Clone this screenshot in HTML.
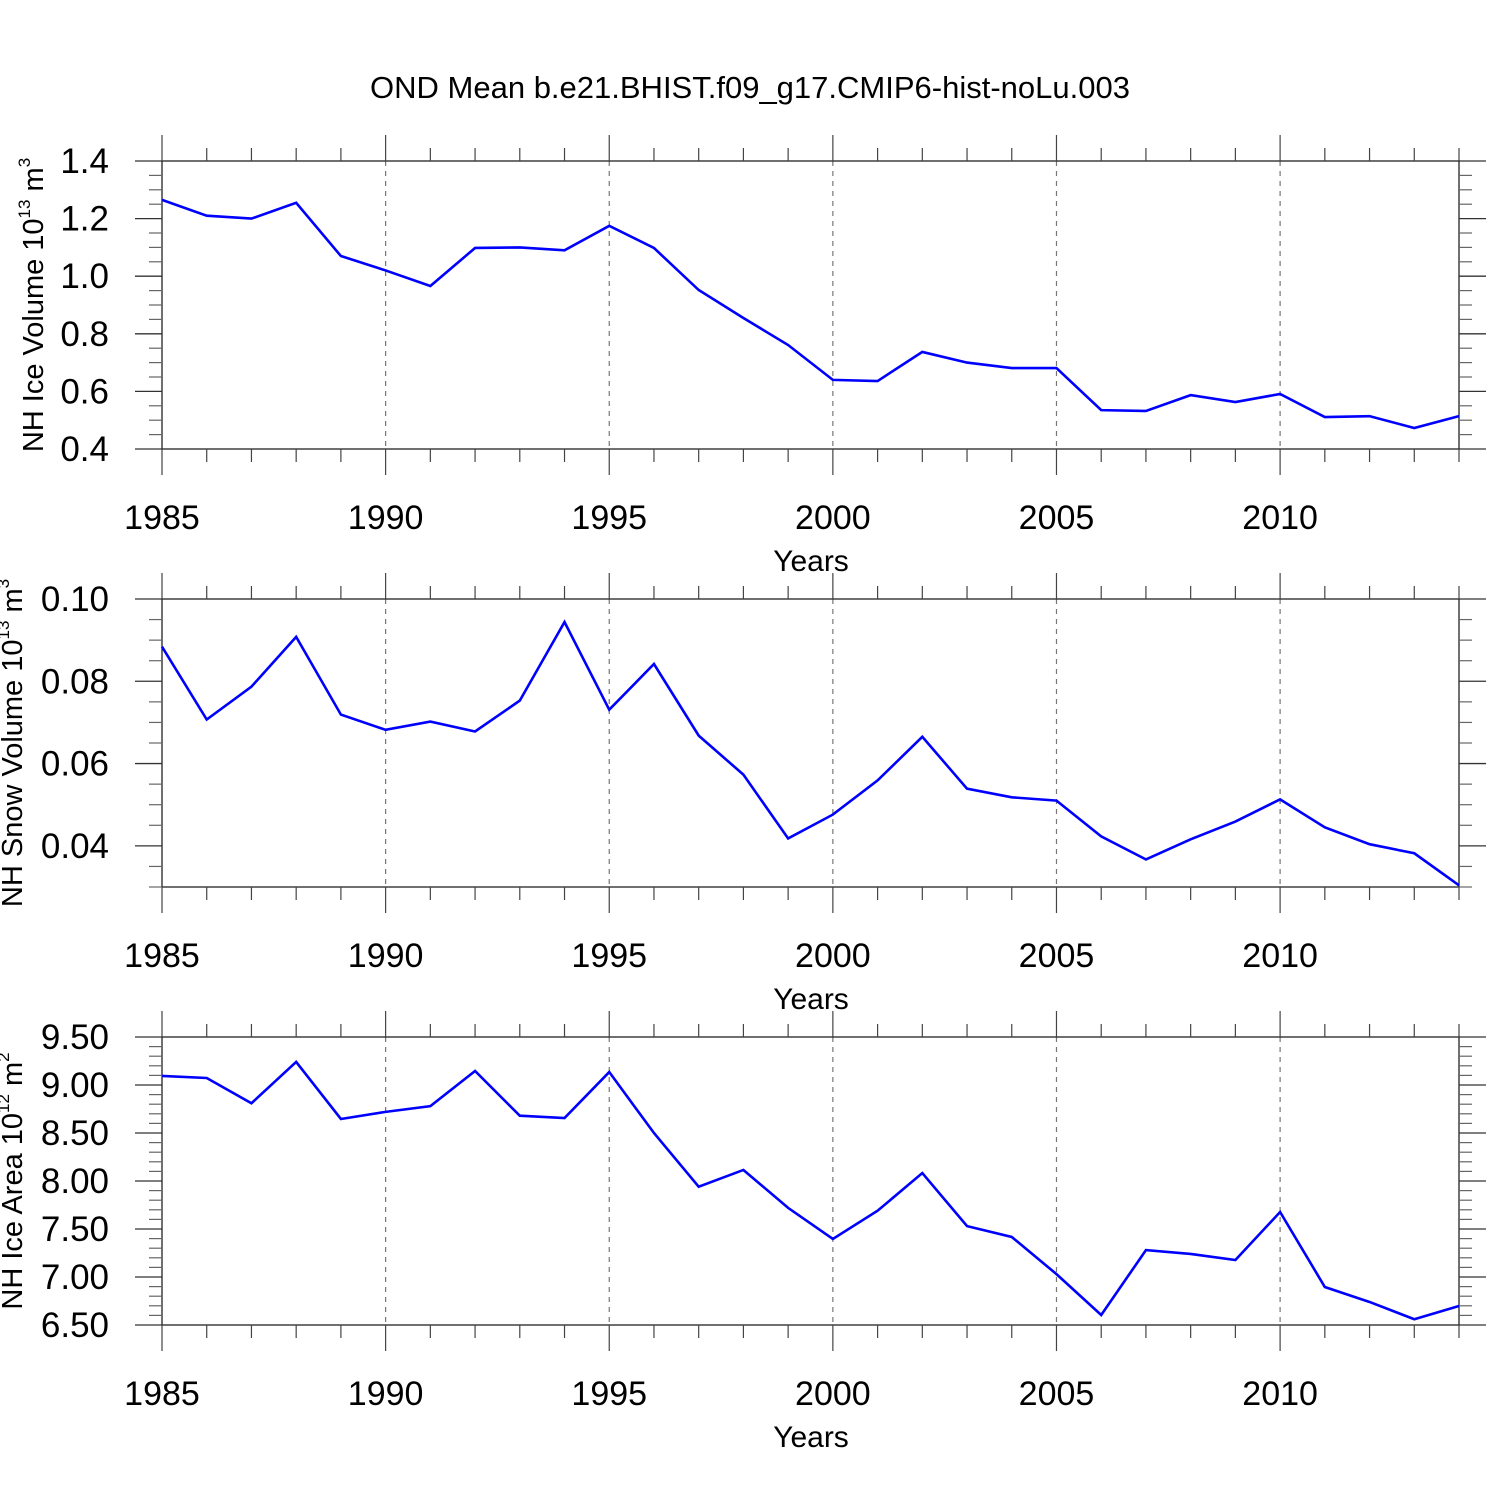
<!DOCTYPE html>
<html><head><meta charset="utf-8"><style>html,body{margin:0;padding:0;background:#fff}svg{display:block}text{font-family:"Liberation Sans",sans-serif}</style></head>
<body>
<svg id="chart" width="1500" height="1500" xmlns="http://www.w3.org/2000/svg">
<text x="750" y="98" font-size="31" text-anchor="middle">OND Mean b.e21.BHIST.f09_g17.CMIP6-hist-noLu.003</text>
</svg>
<script>
const years = [1985,1986,1987,1988,1989,1990,1991,1992,1993,1994,1995,1996,1997,1998,1999,2000,2001,2002,2003,2004,2005,2006,2007,2008,2009,2010,2011,2012,2013,2014];
const iceVolume = [1.265,1.21,1.20,1.255,1.07,1.02,0.966,1.098,1.10,1.09,1.175,1.098,0.952,0.855,0.761,0.64,0.636,0.737,0.70,0.681,0.681,0.535,0.532,0.587,0.563,0.591,0.511,0.514,0.473,0.514];
const snowVolume = [0.0884,0.0707,0.0787,0.0908,0.0719,0.0682,0.0702,0.0678,0.0753,0.0944,0.0731,0.0842,0.0668,0.0573,0.0418,0.0476,0.0559,0.0665,0.0539,0.0518,0.0510,0.0423,0.0367,0.0416,0.0459,0.0513,0.0445,0.0404,0.0382,0.0304];
const iceArea = [9.094,9.073,8.81,9.24,8.646,8.72,8.78,9.146,8.68,8.656,9.135,8.50,7.94,8.115,7.72,7.396,7.69,8.083,7.53,7.417,7.03,6.604,7.28,7.24,7.177,7.677,6.896,6.74,6.56,6.698];
const xTickLabels = ["1985","1990","1995","2000","2005","2010"];
const iceVolTicks = ["0.4","0.6","0.8","1.0","1.2","1.4"];
const snowTicks = ["0.04","0.06","0.08","0.10"];
const areaTicks = ["6.50","7.00","7.50","8.00","8.50","9.00","9.50"];

const NS="http://www.w3.org/2000/svg";
const svg=document.getElementById('chart');
function mk(tag,attrs,parent){const e=document.createElementNS(NS,tag);for(const k in attrs)e.setAttribute(k,attrs[k]);(parent||svg).appendChild(e);return e;}
const X0=162,X1=1459;
const xs=y=>X0+(y-1985)/(2014-1985)*(X1-X0);

function panel(name,top,bot,ymin,ymax,major,minor,labels,series,titleParts){
  const g=mk('g',{});
  
  
  const ys=v=>bot-(v-ymin)/(ymax-ymin)*(bot-top);
  for(let yr=1990;yr<=2010;yr+=5){
    const l=mk('line',{x1:xs(yr),x2:xs(yr),y1:top,y2:bot,stroke:'#777','stroke-width':1.2,'stroke-dasharray':'5,5'},g);
    
    
  }
  const fr=mk('rect',{x:X0,y:top,width:X1-X0,height:bot-top,fill:'none',stroke:'#222','stroke-width':1.3},g);
  
  
  for(let yr=1985;yr<=2014;yr++){
    const maj=(yr%5===0);const L=maj?26:13;
    mk('line',{x1:xs(yr),x2:xs(yr),y1:top,y2:top-L,stroke:'#444','stroke-width':1.2},g);
    mk('line',{x1:xs(yr),x2:xs(yr),y1:bot,y2:bot+L,stroke:'#444','stroke-width':1.2},g);
  }
  xTickLabels.forEach(t=>{
    const tx=mk('text',{x:xs(+t),y:bot+80,'font-size':34,'text-anchor':'middle'},g);
    
    
    tx.textContent=t;
  });
  const xt=mk('text',{x:811,y:bot+122,'font-size':30,'text-anchor':'middle'},g);
  
  
  xt.textContent='Years';
  const eps=1e-9;
  for(let v=ymin;v<=ymax+eps;v+=minor){
    const y=ys(v);
    const isMaj=Math.abs(v/major-Math.round(v/major))<1e-6;
    if(isMaj){
      mk('line',{x1:X0-27,x2:X0,y1:y,y2:y,stroke:'#333','stroke-width':1.3},g);
      mk('line',{x1:X1,x2:X1+27,y1:y,y2:y,stroke:'#333','stroke-width':1.3},g);
    } else {
      mk('line',{x1:X0-13,x2:X0,y1:y,y2:y,stroke:'#666','stroke-width':1.2},g);
      mk('line',{x1:X1,x2:X1+13,y1:y,y2:y,stroke:'#666','stroke-width':1.2},g);
    }
  }
  labels.forEach(t=>{
    const tx=mk('text',{x:109,y:ys(+t)+12,'font-size':35,'text-anchor':'end'},g);
    
    
    tx.textContent=t;
  });
  const cy=(top+bot)/2;
  const yt=mk('text',{x:0,y:0,'font-size':29,'text-anchor':'middle',transform:`translate(${titleParts[3]},${cy}) rotate(-90)`},g);
  
  
  const t1=mk('tspan',{},yt);t1.textContent=titleParts[0];
  const t2=mk('tspan',{'font-size':17,dy:-13},yt);t2.textContent=titleParts[1];
  const t3=mk('tspan',{dy:13},yt);t3.textContent=' '+titleParts[2].slice(0,1);
  const t4=mk('tspan',{'font-size':17,dy:-13},yt);t4.textContent=titleParts[2].slice(1);
  const pts=years.map((yr,i)=>xs(yr)+','+ys(series[i])).join(' ');
  const pl=mk('polyline',{points:pts,fill:'none',stroke:'#0000ff','stroke-width':2.6,'stroke-linejoin':'miter'},g);
  
  
}
panel('ice-volume',161,449,0.4,1.4,0.2,0.05,iceVolTicks,iceVolume,['NH Ice Volume 10','13','m3',43]);
panel('snow-volume',599,887,0.03,0.10,0.02,0.005,snowTicks,snowVolume,['NH Snow Volume 10','13','m3',22]);
panel('ice-area',1037,1325,6.5,9.5,0.5,0.1,areaTicks,iceArea,['NH Ice Area 10','12','m2',22]);
</script>
</body></html>
